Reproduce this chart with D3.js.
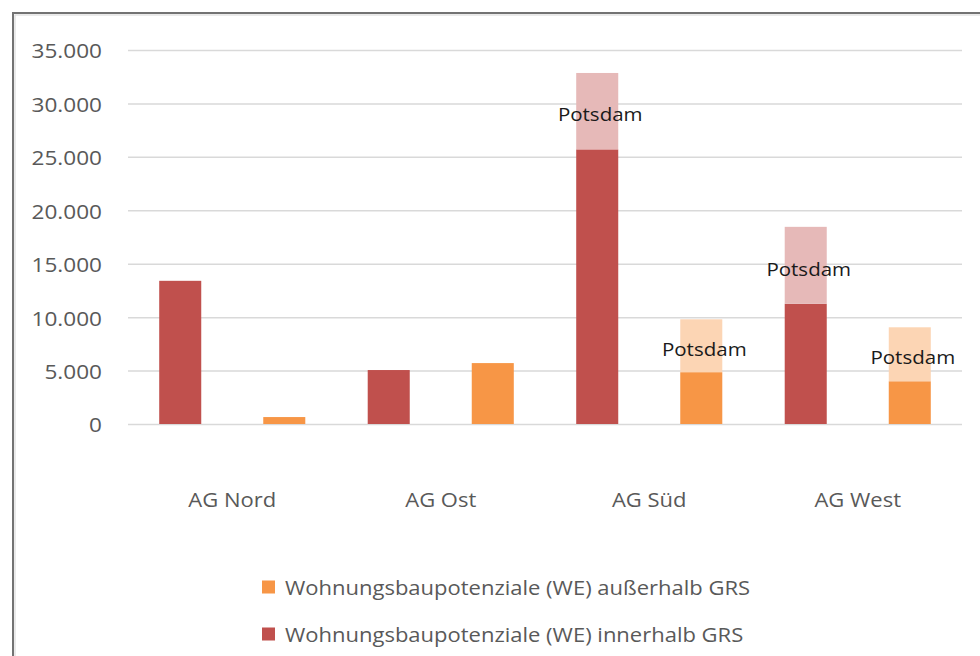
<!DOCTYPE html>
<html>
<head>
<meta charset="utf-8">
<script src="https://cdn.jsdelivr.net/npm/d3@7"></script>
<style>
  body { margin: 0; background: #fff; }
  svg text { font-family: "Open Sans", sans-serif; }
</style>
</head>
<body>
<svg id="chart" width="980" height="656"></svg>
<script>
// data
const groups = ["AG Nord", "AG Ost", "AG Süd", "AG West"];
const innerBase = [13400, 5050, 25700, 11250];   // innerhalb GRS
const innerPotsdam = [0, 0, 7150, 7200];
const outerBase = [650, 5700, 4850, 4000];       // außerhalb GRS
const outerPotsdam = [0, 0, 4950, 5050];
const yTicks = [0, 5000, 10000, 15000, 20000, 25000, 30000, 35000];
const seriesNames = ["Wohnungsbaupotenziale (WE) außerhalb GRS", "Wohnungsbaupotenziale (WE) innerhalb GRS"];

const cInner = "#c0504d", cInnerLight = "#e6b9b8";
const cOuter = "#f79646", cOuterLight = "#fcd5b4";

const svg = d3.select("#chart");

// outer frame
svg.append("rect").attr("x", 13).attr("y", 13).attr("width", 1000).attr("height", 700)
  .attr("fill", "none").attr("stroke", "#737373").attr("stroke-width", 2);
svg.append("rect").attr("x", 15).attr("y", 15).attr("width", 1000).attr("height", 700)
  .attr("fill", "none").attr("stroke", "#d6d6d6").attr("stroke-width", 1);

const plotL = 128, plotR = 962, plotT = 50, plotB = 424;

const y = d3.scaleLinear().domain([0, 35000]).range([plotB, plotT]);
const x0 = d3.scaleBand().domain(groups).range([plotL, plotR]).padding(0);
const x1 = d3.scaleBand().domain(["inner", "outer"]).range([0, x0.bandwidth()])
  .paddingInner(0.596).paddingOuter(0.3);

const fmt = d3.formatLocale({ decimal: ",", thousands: ".", grouping: [3], currency: ["", "€"] }).format(",");

// the source text is slightly wider than Open Sans, so stretch a bit
function stretched(sel, x, yv, sx) {
  sel.attr("x", 0).attr("y", 0)
    .attr("transform", "translate(" + x + "," + yv + ") scale(" + sx + ",1)");
}

// gridlines + tick labels
const yAxis = svg.append("g").attr("transform", "translate(" + plotL + ",0)")
  .call(d3.axisLeft(y).tickValues(yTicks).tickSize(-(plotR - plotL)).tickFormat(fmt));
yAxis.select(".domain").remove();
yAxis.selectAll(".tick line").attr("stroke", "#d9d9d9").attr("stroke-width", 1.5);
yAxis.selectAll(".tick text").attr("fill", "#595959").style("font-size", "20px")
  .attr("dy", null).attr("dominant-baseline", "central")
  .each(function () { stretched(d3.select(this), -26, 0, 1.13); });

// bars
const rows = groups.map(function (g, i) {
  return [
    { g: g, key: "inner", base: innerBase[i], pots: innerPotsdam[i], c: cInner, cl: cInnerLight },
    { g: g, key: "outer", base: outerBase[i], pots: outerPotsdam[i], c: cOuter, cl: cOuterLight }
  ];
}).flat();

const bars = svg.append("g");
bars.selectAll("rect.base").data(rows).enter().append("rect")
  .attr("class", "base")
  .attr("x", function (d) { return x0(d.g) + x1(d.key); })
  .attr("width", x1.bandwidth())
  .attr("y", function (d) { return y(d.base); })
  .attr("height", function (d) { return y(0) - y(d.base); })
  .attr("fill", function (d) { return d.c; });

const pots = rows.filter(function (d) { return d.pots > 0; });
bars.selectAll("rect.pots").data(pots).enter().append("rect")
  .attr("class", "pots")
  .attr("x", function (d) { return x0(d.g) + x1(d.key); })
  .attr("width", x1.bandwidth())
  .attr("y", function (d) { return y(d.base + d.pots); })
  .attr("height", function (d) { return y(d.base) - y(d.base + d.pots); })
  .attr("fill", function (d) { return d.cl; });

bars.selectAll("text.pots").data(pots).enter().append("text")
  .attr("class", "pots")
  .text("Potsdam")
  .attr("text-anchor", "middle")
  .attr("dominant-baseline", "central")
  .attr("fill", "#1a1a1a")
  .style("font-size", "19px")
  .each(function (d) {
    stretched(d3.select(this), x0(d.g) + x1(d.key) + x1.bandwidth() / 2 + 3,
      (y(d.base) + y(d.base + d.pots)) / 2 + 3, 1.08);
  });

// category labels
svg.selectAll("text.cat").data(groups).enter().append("text")
  .attr("class", "cat")
  .text(function (d) { return d; })
  .attr("text-anchor", "middle")
  .attr("dominant-baseline", "central")
  .attr("fill", "#595959")
  .style("font-size", "20px")
  .each(function (d) { stretched(d3.select(this), x0(d) + x0.bandwidth() / 2, 499, 1.1); });

// legend
const legend = svg.selectAll("g.leg").data(seriesNames).enter().append("g")
  .attr("class", "leg")
  .attr("transform", function (d, i) { return "translate(262," + (587 + i * 47) + ")"; });
legend.append("rect").attr("x", 0).attr("y", -6.5).attr("width", 13).attr("height", 13)
  .attr("fill", function (d, i) { return i === 0 ? cOuter : cInner; });
legend.append("text").text(function (d) { return d; })
  .attr("dominant-baseline", "central")
  .attr("fill", "#595959")
  .style("font-size", "20px")
  .each(function () { stretched(d3.select(this), 23, 0, 1.1); });
</script>
</body>
</html>
